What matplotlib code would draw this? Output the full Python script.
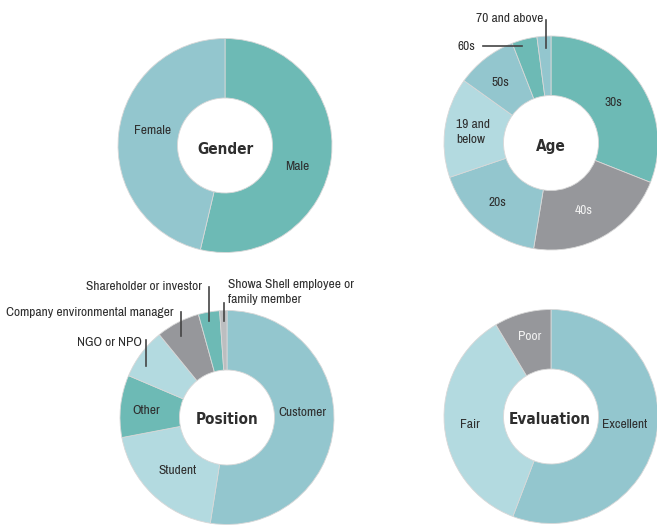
import matplotlib
matplotlib.use("Agg")
import matplotlib.pyplot as plt
from matplotlib import font_manager

names = sorted({f.name for f in font_manager.fontManager.ttflist})
narrow = [n for n in names if 'Narrow' in n or 'Condensed' in n]
FONT = narrow[0] if narrow else 'DejaVu Sans'

W, H = 657, 526

# Data
gender_labels = ["Male", "Female"]
gender_values = [53.7, 46.3]

age_labels = ["30s", "40s", "20s", "19 and\nbelow", "50s", "60s", "70 and above"]
age_values = [31.0, 21.6, 17.2, 15.1, 9.2, 3.8, 2.1]

position_labels = ["Customer", "Student", "Other", "NGO or NPO",
                   "Company environmental manager", "Shareholder or investor",
                   "Showa Shell employee or\nfamily member"]
position_values = [52.5, 19.5, 9.4, 7.7, 6.6, 3.2, 1.1]

eval_labels = ["Excellent", "Fair", "Poor"]
eval_values = [55.8, 35.6, 8.6]

TEAL = "#6dbab5"
BLUE = "#93c6ce"
LIGHT = "#b3dae0"
GRAY = "#96979b"
LGRAY = "#bcbec0"
TXT = "#2e2e2e"

gender_colors = [TEAL, BLUE]
age_colors = [TEAL, GRAY, BLUE, LIGHT, BLUE, TEAL, BLUE]
position_colors = [BLUE, LIGHT, TEAL, LIGHT, GRAY, TEAL, LGRAY]
eval_colors = [BLUE, LIGHT, GRAY]

plt.rcParams['font.family'] = [FONT, 'DejaVu Sans']

fig = plt.figure(figsize=(W / 100, H / 100), dpi=100)
ax = fig.add_axes([0, 0, 1, 1])

R = 107
RI = 47.5


def Y(y):
    return H - y


def donut(cx, cy, values, colors):
    ax.pie(values, colors=colors, startangle=90, counterclock=False,
           center=(cx, Y(cy)), radius=R, frame=True,
           wedgeprops=dict(width=R - RI, edgecolor='#d8d8d8', linewidth=0.6))


def label(x, y, s, color=TXT, size=9.7, ha='center', va='center'):
    ax.text(x, Y(y), s, color=color, fontsize=size,
            ha=ha, va=va, linespacing=1.45)


def title(x, y, s):
    ax.text(x, Y(y), s, color=TXT, fontsize=11, fontweight='bold',
            fontstretch='condensed', family=['DejaVu Sans'],
            ha='center', va='center')


def line(x0, y0, x1, y1):
    ax.plot([x0, x1], [Y(y0), Y(y1)], color='#444444', lw=1.2)


# Gender
donut(225, 145.5, gender_values, gender_colors)
label(297, 166, gender_labels[0])
label(153, 131, gender_labels[1])
title(225, 149, "Gender")

# Age
donut(551, 143, age_values, age_colors)
label(613, 103, age_labels[0])
label(584, 210, age_labels[1], color='#f2f2f2')
label(497, 202, age_labels[2])
label(456, 132, age_labels[3], ha='left')
label(500, 82, age_labels[4])
label(466, 46, age_labels[5])
line(483, 46, 522, 46)
label(510, 18, age_labels[6])
line(546, 20, 546, 48)
title(551, 147, "Age")

# Position
donut(227, 417.5, position_values, position_colors)
label(302, 412, position_labels[0])
label(178, 470, position_labels[1])
label(146, 410, position_labels[2])
label(142, 342, position_labels[3], ha='right')
line(146, 340, 146, 366)
label(174, 312, position_labels[4], ha='right')
line(181, 312, 181, 336)
label(202, 286, position_labels[5], ha='right')
line(209, 287, 209, 321)
label(228, 292, position_labels[6], ha='left')
line(224, 303, 224, 321)
title(227, 419, "Position")

# Evaluation
donut(551, 416.5, eval_values, eval_colors)
label(625, 424, eval_labels[0])
label(470, 424, eval_labels[1])
label(530, 337, eval_labels[2], color='#f2f2f2')
title(550, 420, "Evaluation")

ax.set_xlim(0, W)
ax.set_ylim(0, H)
ax.set_aspect('equal')
ax.axis('off')

fig.savefig("out.png", dpi=100)
